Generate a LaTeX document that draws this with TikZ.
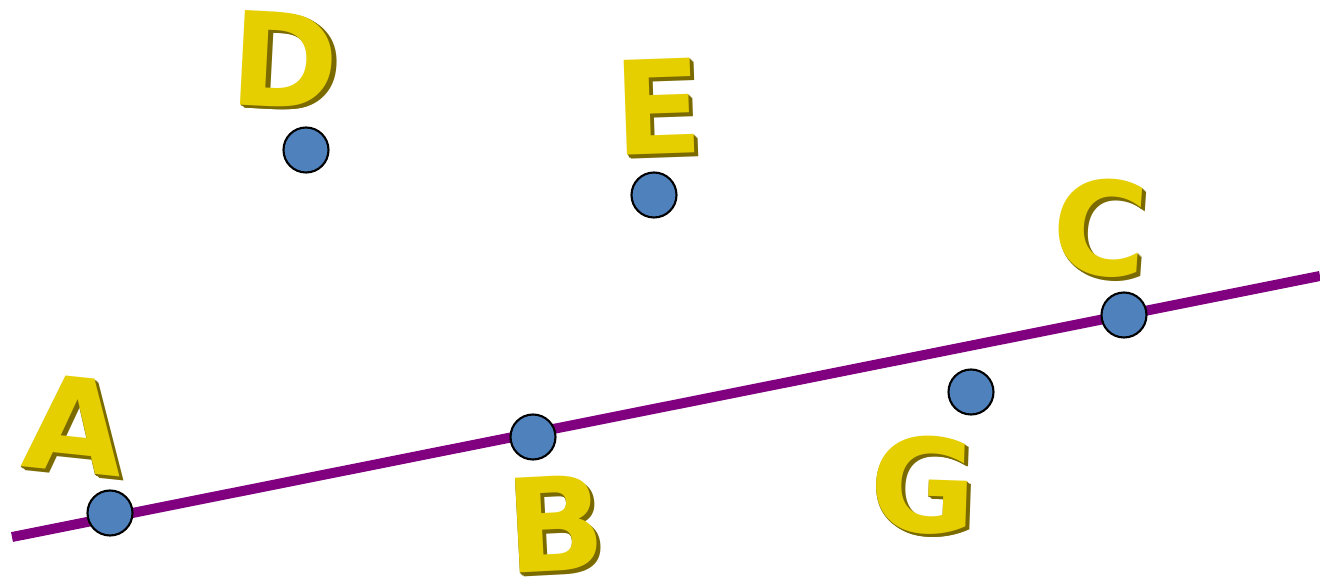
\documentclass[tikz,border=0pt]{standalone}
\usepackage{fontspec}
\usepackage{xcolor}
\usepackage{tikz}
\usetikzlibrary{positioning}
\newfontfamily\letterfont{DejaVu Sans}
\definecolor{dotblue}{HTML}{4F81BD}
\definecolor{linepurple}{HTML}{800080}
\definecolor{goldface}{HTML}{E6CF00}
\definecolor{goldside}{HTML}{7A6A00}

\begin{document}
\begin{tikzpicture}[x=0.02cm,y=-0.02cm]
\tikzstyle{point}=[circle,fill=dotblue,draw=black,line width=1.2pt,minimum size=0.9cm,inner sep=0pt]
\tikzstyle{side}=[text=goldside,font=\letterfont\bfseries\fontsize{74}{74}\selectfont,inner sep=0pt]
\tikzstyle{face}=[text=goldface,font=\letterfont\bfseries\fontsize{74}{74}\selectfont,inner sep=0pt]
\useasboundingbox (0,0) rectangle (1320,587);

% Line
\coordinate (start) at (12,537);
\coordinate (end) at (1320,276);
\draw[linepurple,line width=0.2cm] (start) -- (end);

% Letters
\foreach \name/\lx/\ly/\ang in {A/75/425/-6,B/555/524/3,C/1100/228/-4,D/285/60/-3,E/658/107/2,G/923/485/-2}{
  \foreach \k in {1,...,5}
    \node[side,rotate=\ang] at (\lx+0.9*\k,\ly+0.7*\k) {\name};
  \node[face,rotate=\ang] (L\name) at (\lx,\ly) {\name};
}

% Points
\node[point] (A) at (110,513) {};
\node[point] (B) at (533,437) {};
\node[point] (C) at (1124,315) {};
\node[point] (D) at (306,150) {};
\node[point] (E) at (654,195) {};
\node[point] (G) at (971,392) {};

\end{tikzpicture}
\end{document}
